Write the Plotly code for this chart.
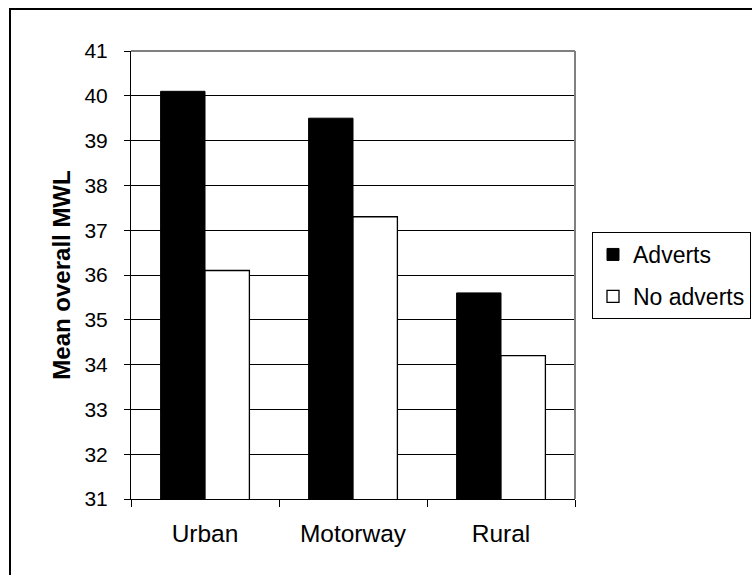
import plotly.graph_objects as go

# Mean overall mental workload by road type, with and without roadside adverts
road_types = ["Urban", "Motorway", "Rural"]
adverts = [40.1, 39.5, 35.6]
no_adverts = [36.1, 37.3, 34.2]
y_ticks = list(range(31, 42))

FONT = "Liberation Sans, Arial, sans-serif"
W, H = 752, 575
L, R, T, B = 131, 177, 51, 76
plot_w = W - L - R
plot_h = H - T - B

fig = go.Figure()
fig.add_trace(go.Bar(
    x=road_types, y=adverts, name="Adverts", legendgroup="a",
    marker=dict(color="black", line=dict(color="black", width=1)),
))
fig.add_trace(go.Bar(
    x=road_types, y=no_adverts, name="No adverts", legendgroup="b",
    marker=dict(color="white", line=dict(color="black", width=1.3)),
))

fig.update_layout(
    width=W, height=H,
    margin=dict(l=L, r=R, t=T, b=B, pad=0),
    paper_bgcolor="white", plot_bgcolor="white",
    barmode="group", bargap=0.4, bargroupgap=0,
    font=dict(family=FONT, size=21, color="black"),
    showlegend=True,
    legend=dict(
        xref="container", yref="container",
        x=592 / W, y=1 - 232 / H, xanchor="left", yanchor="top",
        bordercolor="black", borderwidth=1,
        font=dict(size=23), traceorder="grouped", tracegroupgap=9,
        itemwidth=30, entrywidth=170,
    ),
    xaxis=dict(
        type="category", showline=True, linecolor="black", linewidth=1,
        ticks="outside", tickson="boundaries", ticklen=7, tickcolor="black",
        showgrid=False, tickfont=dict(size=24.5), ticklabelstandoff=13,
    ),
    yaxis=dict(
        range=[31, 41], tickvals=y_ticks, showline=True, linecolor="black",
        linewidth=1, ticks="outside", ticklen=6, tickcolor="black",
        showgrid=True, gridcolor="black", gridwidth=1, zeroline=False,
        tickfont=dict(size=21), ticklabelstandoff=12,
        title=dict(text="<b>Mean overall MWL</b>", font=dict(size=24), standoff=7),
    ),
    shapes=[
        # grey frame on the top and right of the plot area
        dict(type="line", xref="paper", yref="paper", x0=0, x1=1, y0=1, y1=1,
             line=dict(color="#808080", width=2)),
        dict(type="line", xref="paper", yref="paper", x0=1, x1=1, y0=0, y1=1,
             line=dict(color="#808080", width=2)),
        # outer chart border
        dict(type="rect", xref="paper", yref="paper",
             x0=(10 - L) / plot_w, x1=2.0, y0=-1.0, y1=(H - B - 9) / plot_h,
             line=dict(color="black", width=2), layer="below"),
    ],
)

fig.write_html("out.html")
